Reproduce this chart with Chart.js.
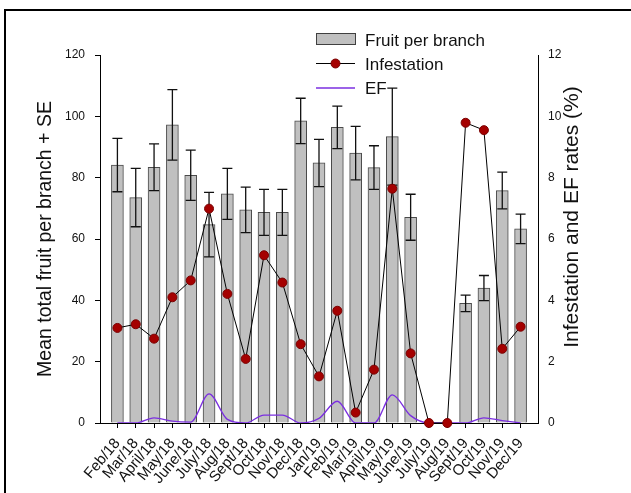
<!DOCTYPE html>
<html><head><meta charset="utf-8">
<script src="https://cdn.jsdelivr.net/npm/chart.js@4"></script>
<style>
html,body{margin:0;padding:0;background:#fff;}
#wrap{position:relative;width:631px;height:493px;overflow:hidden;}
#frame{position:absolute;left:4px;top:9px;right:-5px;bottom:-5px;border-top:2px solid #000;border-left:2px solid #000;pointer-events:none;}
canvas{position:absolute;left:0;top:0;}
</style></head><body>
<div id="wrap"><canvas id="c" width="631" height="493"></canvas><div id="frame"></div></div>
<script>
const months = ["Feb/18","Mar/18","April/18","May/18","June/18","July/18","Aug/18","Sept/18","Oct/18","Nov/18","Dec/18","Jan/19","Feb/19","Mar/19","April/19","May/19","June/19","July/19","Aug/19","Sept/19","Oct/19","Nov/19","Dec/19"];
const fruitPerBranch = [84.1,73.5,83.4,97.2,80.8,64.7,74.7,69.5,68.7,68.7,98.5,84.8,96.4,88.0,83.3,93.4,67.1,null,null,39.0,44.0,75.8,63.3];
const fruitSE = [8.7,9.5,7.6,11.5,8.2,10.5,8.3,7.4,7.5,7.5,7.4,7.7,6.9,8.7,7.1,15.8,7.5,null,null,2.7,4.1,6.0,4.8];
const infestation = [3.10,3.22,2.75,4.10,4.65,6.99,4.21,2.09,5.47,4.58,2.57,1.52,3.66,0.34,1.74,7.64,2.27,0,0,9.79,9.55,2.42,3.14];
const efRate = [0,0,0.17,0.06,0.03,0.95,0.12,0,0.26,0.26,0,0.15,0.71,0,0,0.92,0.24,0,0,0,0.17,0.08,0];
const leftTicks = [0,20,40,60,80,100,120];
const rightTicks = [0,2,4,6,8,10,12];
const leftTitle = 'Mean total fruit per branch + SE';
const rightTitle = 'Infestation and EF rates (%)';

const FONT = "'Liberation Sans', Arial, sans-serif";
Chart.defaults.font.family = FONT;
Chart.defaults.color = '#111';

const errorBars = {
  id: 'errorBars',
  afterDatasetDraw(chart, args) {
    if (args.index !== 0) return;
    const ctx = chart.ctx;
    const ys = chart.scales.y;
    const area = chart.chartArea;
    ctx.save();
    ctx.beginPath();
    ctx.rect(area.left, area.top - 20, area.right - area.left, area.bottom - area.top + 20);
    ctx.clip();
    ctx.strokeStyle = '#111';
    ctx.lineWidth = 1.3;
    args.meta.data.forEach((el, i) => {
      const v = fruitPerBranch[i], se = fruitSE[i];
      if (v == null || se == null) return;
      const x = el.x;
      const yt = ys.getPixelForValue(v + se);
      const yb = ys.getPixelForValue(v - se);
      ctx.beginPath();
      ctx.moveTo(x, yt); ctx.lineTo(x, yb);
      ctx.moveTo(x - 5, yt); ctx.lineTo(x + 5, yt);
      ctx.moveTo(x - 5, yb); ctx.lineTo(x + 5, yb);
      ctx.stroke();
    });
    ctx.restore();
  }
};

const legendPlugin = {
  id: 'customLegend',
  afterDraw(chart) {
    const ctx = chart.ctx;
    const ds = chart.data.datasets;
    ctx.save();
    // Fruit per branch
    ctx.fillStyle = ds[0].backgroundColor;
    ctx.strokeStyle = '#404040';
    ctx.lineWidth = 1;
    ctx.fillRect(316.5, 33.5, 39, 11);
    ctx.strokeRect(316.5, 33.5, 39, 11);
    // Infestation
    ctx.beginPath();
    ctx.moveTo(316, 63.5); ctx.lineTo(355, 63.5);
    ctx.strokeStyle = ds[2].borderColor; ctx.lineWidth = 1; ctx.stroke();
    ctx.beginPath();
    ctx.arc(335.5, 63.5, 4.5, 0, Math.PI * 2);
    ctx.fillStyle = ds[2].pointBackgroundColor; ctx.fill();
    ctx.strokeStyle = ds[2].pointBorderColor; ctx.stroke();
    // EF
    ctx.beginPath();
    ctx.moveTo(316, 88); ctx.lineTo(355, 88);
    ctx.strokeStyle = ds[1].borderColor; ctx.lineWidth = 1.5; ctx.stroke();
    // labels
    ctx.fillStyle = '#111';
    ctx.font = '17px ' + FONT;
    ctx.textBaseline = 'alphabetic';
    ctx.textAlign = 'left';
    ctx.fillText(ds[0].label, 365, 45.5);
    ctx.fillText(ds[2].label, 365, 69.5);
    ctx.fillText(ds[1].label, 365, 94);
    // right axis title (reads bottom to top)
    ctx.translate(572, 217);
    ctx.rotate(-Math.PI / 2);
    ctx.font = '21px ' + FONT;
    ctx.textAlign = 'center';
    ctx.textBaseline = 'middle';
    ctx.fillText(rightTitle, 0, 0);
    ctx.restore();
  }
};

new Chart(document.getElementById('c'), {
  data: {
    datasets: [
      {
        type: 'bar',
        label: 'Fruit per branch',
        data: months.map((m, i) => ({x: i, y: fruitPerBranch[i]})),
        yAxisID: 'y',
        backgroundColor: '#c0c0c0',
        borderColor: '#4a4a4a',
        borderWidth: 1,
        barThickness: 12,
        order: 3
      },
      {
        type: 'line',
        label: 'EF',
        data: months.map((m, i) => ({x: i, y: efRate[i]})),
        yAxisID: 'y2',
        borderColor: '#7b2fe0',
        borderWidth: 1.3,
        pointRadius: 0,
        cubicInterpolationMode: 'monotone',
        fill: false,
        order: 2
      },
      {
        type: 'line',
        label: 'Infestation',
        data: months.map((m, i) => ({x: i, y: infestation[i]})),
        yAxisID: 'y2',
        borderColor: '#000',
        borderWidth: 1,
        pointRadius: 4.5,
        pointBackgroundColor: '#a50000',
        pointBorderColor: '#7a0000',
        pointBorderWidth: 1,
        tension: 0,
        fill: false,
        clip: false,
        order: 1
      }
    ]
  },
  options: {
    responsive: false,
    animation: false,
    devicePixelRatio: 1,
    layout: {padding: {left: 0, right: 0, top: 55, bottom: 0}},
    plugins: {legend: {display: false}, tooltip: {enabled: false}},
    scales: {
      x: {
        type: 'linear',
        offset: false,
        min: -0.95,
        max: 22.95,
        afterBuildTicks: (s) => { s.ticks = months.map((m, i) => ({value: i})); },
        afterFit: (s) => { s.height = 70; },
        ticks: {
          autoSkip: false,
          minRotation: 50,
          maxRotation: 50,
          padding: 7,
          color: '#111',
          font: {size: 15},
          callback: (v) => months[v]
        },
        grid: {offset: false, drawOnChartArea: false, drawTicks: true, tickLength: 5, color: '#000', tickColor: '#000'},
        border: {display: true, color: '#000', width: 1}
      },
      y: {
        position: 'left',
        min: 0,
        max: 120,
        afterBuildTicks: (s) => { s.ticks = leftTicks.map(v => ({value: v})); },
        afterFit: (s) => { s.width = 100; },
        ticks: {padding: 10, color: '#111', font: {size: 12}},
        grid: {drawOnChartArea: false, drawTicks: true, tickLength: 5, color: '#000', tickColor: '#000'},
        border: {display: true, color: '#000', width: 1},
        title: {display: true, text: leftTitle, color: '#111', font: {size: 19.5}, padding: {top: 34, bottom: 0}}
      },
      y2: {
        position: 'right',
        min: 0,
        max: 12,
        afterBuildTicks: (s) => { s.ticks = rightTicks.map(v => ({value: v})); },
        afterFit: (s) => { s.width = 93; },
        ticks: {padding: 10, color: '#111', font: {size: 12}},
        grid: {drawOnChartArea: false, drawTicks: false, tickLength: 0, color: '#000'},
        border: {display: true, color: '#000', width: 1},
        title: {display: false}
      }
    }
  },
  plugins: [errorBars, legendPlugin]
});
</script>
</body></html>
